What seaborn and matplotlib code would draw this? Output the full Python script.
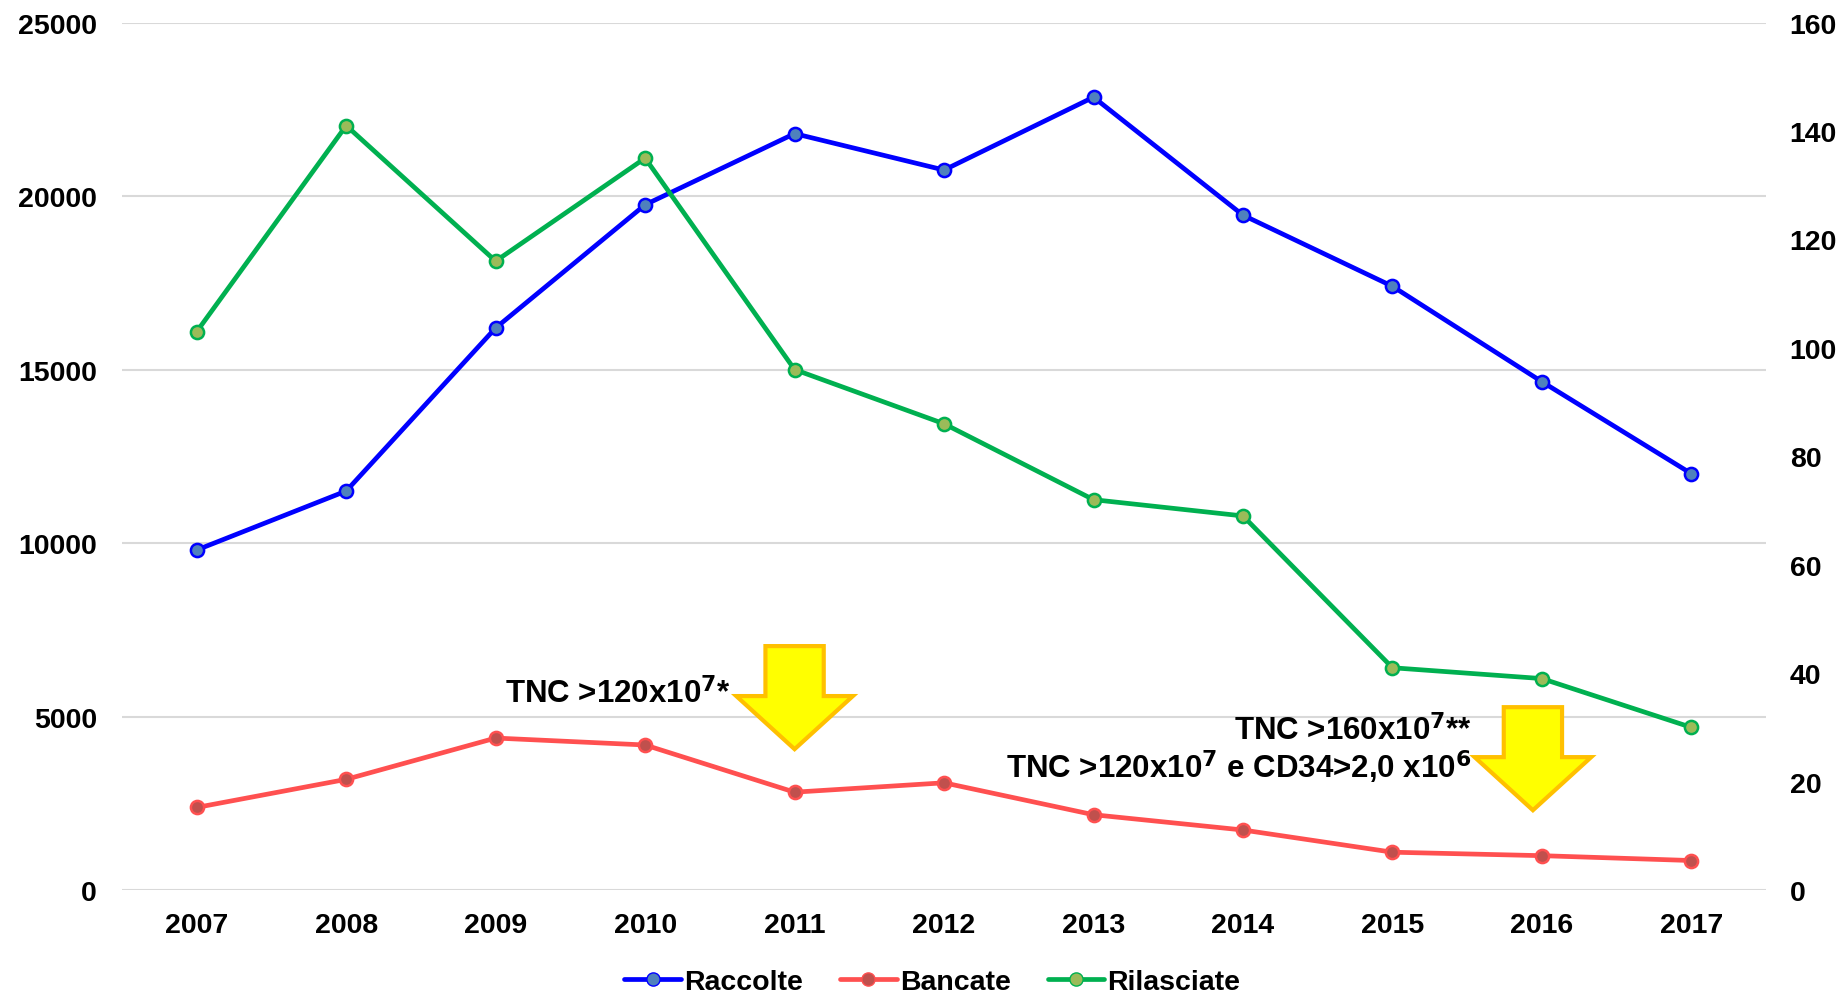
import matplotlib
matplotlib.use("Agg")
import matplotlib.pyplot as plt
import seaborn as sns
import pandas as pd
from matplotlib.patches import Polygon
from matplotlib.lines import Line2D

years = [2007, 2008, 2009, 2010, 2011, 2012, 2013, 2014, 2015, 2016, 2017]
raccolte = [9800, 11500, 16200, 19750, 21800, 20750, 22850, 19450, 17400, 14650, 12000]
bancate = [2380, 3190, 4380, 4180, 2820, 3090, 2170, 1730, 1090, 990, 850]
rilasciate = [103, 141, 116, 135, 96, 86, 72, 69, 41, 39, 30]

df = pd.DataFrame({"Anno": years, "Raccolte": raccolte, "Bancate": bancate, "Rilasciate": rilasciate})

sns.set_style("white")
plt.rcParams["font.family"] = ["Liberation Sans", "DejaVu Sans"]
plt.rcParams["font.weight"] = "bold"
plt.rcParams["text.color"] = "black"
plt.rcParams["xtick.color"] = "black"
plt.rcParams["ytick.color"] = "black"

fig = plt.figure(figsize=(18.46, 9.95), dpi=100)
ax = fig.add_axes([0.0661, 0.1045, 0.8906, 0.8718])
ax2 = ax.twinx()

lw = 3.4
ms = 9.5
sns.lineplot(data=df, x="Anno", y="Raccolte", ax=ax, color="#0000ff", lw=lw,
             marker="o", markersize=ms, markerfacecolor="#4f81bd", markeredgecolor="#0000ff", markeredgewidth=1.8)
sns.lineplot(data=df, x="Anno", y="Bancate", ax=ax, color="#ff5050", lw=lw,
             marker="o", markersize=ms, markerfacecolor="#c0504d", markeredgecolor="#ff5050", markeredgewidth=1.8)
sns.lineplot(data=df, x="Anno", y="Rilasciate", ax=ax2, color="#00b050", lw=lw,
             marker="o", markersize=ms, markerfacecolor="#9bbb59", markeredgecolor="#00b050", markeredgewidth=1.8)

ax.set_xlim(2006.5, 2017.5)
ax.set_ylim(0, 25000)
ax2.set_ylim(0, 160)
ax.set_xticks(years)
ax.set_yticks(range(0, 25001, 5000))
ax2.set_yticks(range(0, 161, 20))
ax.set_xlabel("")
ax.set_ylabel("")
ax2.set_ylabel("")

ax.grid(axis="y", color="#d9d9d9", lw=1.5)
ax.set_axisbelow(True)
for a in (ax, ax2):
    for s in a.spines.values():
        s.set_visible(False)
ax.tick_params(axis="x", length=0, pad=16, labelsize=20.5, labelcolor="black")
ax.tick_params(axis="y", length=0, pad=18, labelsize=20.5, labelcolor="black")
ax2.tick_params(axis="y", length=0, pad=17, labelsize=20.5, labelcolor="black")
for lab in ax.get_xticklabels() + ax.get_yticklabels() + ax2.get_yticklabels():
    lab.set_fontweight("bold")


def block_arrow(cx, top, neck, tip, head_hw, shaft_hw):
    pts = [(cx - shaft_hw, top), (cx + shaft_hw, top), (cx + shaft_hw, neck),
           (cx + head_hw, neck), (cx, tip), (cx - head_hw, neck), (cx - shaft_hw, neck)]
    ax.add_patch(Polygon(pts, closed=True, facecolor="#ffff00", edgecolor="#ffc000",
                         lw=3, joinstyle="miter", zorder=5, clip_on=False))


block_arrow(2011.0, 7030, 5590, 4060, 0.39, 0.195)
block_arrow(2015.94, 5270, 3830, 2300, 0.39, 0.195)

ax.text(2009.06, 5420, r"TNC >120x10$^{\mathbf{7}}$*", fontsize=22.5, fontweight="bold",
        va="baseline", ha="left", color="black")
ax.text(2015.53, 4350, r"TNC >160x10$^{\mathbf{7}}$**", fontsize=22.5, fontweight="bold",
        va="baseline", ha="right", color="black")
ax.text(2015.53, 3260, r"TNC >120x10$^{\mathbf{7}}$ e CD34>2,0 x10$^{\mathbf{6}}$", fontsize=22.5,
        fontweight="bold", va="baseline", ha="right", color="black")

handles = [
    Line2D([], [], color="#0000ff", lw=lw, marker="o", markersize=ms, markerfacecolor="#4f81bd", markeredgecolor="#0000ff"),
    Line2D([], [], color="#ff5050", lw=lw, marker="o", markersize=ms, markerfacecolor="#c0504d", markeredgecolor="#ff5050"),
    Line2D([], [], color="#00b050", lw=lw, marker="o", markersize=ms, markerfacecolor="#9bbb59", markeredgecolor="#00b050"),
]
if ax.get_legend():
    ax.get_legend().remove()
fig.legend(handles, ["Raccolte", "Bancate", "Rilasciate"], loc="lower center", bbox_to_anchor=(0.505, -0.027),
           ncol=3, frameon=False, handlelength=2.0, handletextpad=0.1, columnspacing=1.3,
           prop={"weight": "bold", "size": 20.5})

plt.savefig("out.png", dpi=100)
